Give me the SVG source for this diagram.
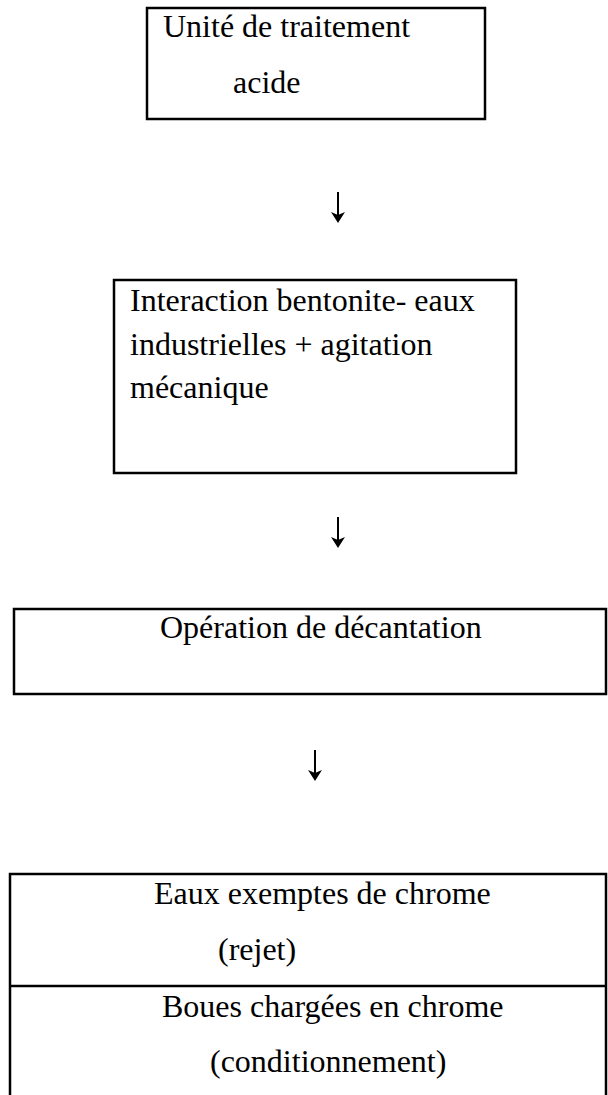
<svg xmlns="http://www.w3.org/2000/svg" width="608" height="1095" viewBox="0 0 608 1095">
<style>
.box{fill:#fff;stroke:#000;stroke-width:2.5}
.t{font-family:"Liberation Serif","Times New Roman",serif;font-size:32px;fill:#000}
.c{stroke:#000;stroke-width:2;fill:none}
.h{fill:#000;stroke:none}
</style>
<rect width="608" height="1095" fill="#fff"/>
<g id="n1">
<rect class="box" x="147" y="8" width="338" height="111"/>
<text class="t" x="163" y="37">Unité de traitement</text>
<text class="t" x="233" y="93">acide</text>
</g>
<g id="n2">
<rect class="box" x="114" y="280" width="402" height="193"/>
<text class="t" x="130" y="311">Interaction bentonite- eaux</text>
<text class="t" x="130" y="355">industrielles + agitation</text>
<text class="t" x="130" y="398">mécanique</text>
</g>
<g id="n3">
<rect class="box" x="14" y="609" width="592" height="85"/>
<text class="t" x="160" y="638">Opération de décantation</text>
</g>
<g id="n4">
<path class="box" d="M10,1100 V874 H606 V1100 M10,986 H606"/>
<text class="t" x="154" y="904">Eaux exemptes de chrome</text>
<text class="t" x="218" y="960">(rejet)</text>
<text class="t" x="162" y="1017">Boues chargées en chrome</text>
<text class="t" x="210" y="1072">(conditionnement)</text>
</g>
<g id="connectors">
<line class="c" x1="338" y1="192" x2="338" y2="220"/>
<path class="h" d="M331,212 L338,215 L345,212 L338,223 Z"/>
<line class="c" x1="338" y1="517" x2="338" y2="545"/>
<path class="h" d="M331,537 L338,540 L345,537 L338,548 Z"/>
<line class="c" x1="315" y1="750" x2="315" y2="778"/>
<path class="h" d="M308,770 L315,773 L322,770 L315,781 Z"/>
</g>
</svg>
